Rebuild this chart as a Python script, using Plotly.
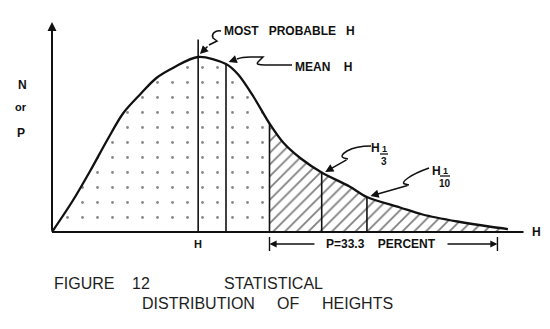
import plotly.graph_objects as go

# Wave height H (relative to the mean height) and relative frequency (N or P)
height = [0.00, 0.12, 0.22, 0.32, 0.41, 0.51, 0.60, 0.70, 0.84, 1.00, 1.07, 1.16,
          1.25, 1.33, 1.43, 1.55, 1.71, 1.81, 2.00, 2.13, 2.33, 2.52, 2.62]
freq = [0.000, 0.18, 0.35, 0.53, 0.68, 0.79, 0.88, 0.94, 1.00, 0.96, 0.90, 0.77,
        0.62, 0.51, 0.42, 0.34, 0.26, 0.20, 0.14, 0.10, 0.06, 0.03, 0.017]

h_mode = 0.84      # most probable height
h_mean = 1.00      # mean height
h_split = 1.25     # lower bound of the highest third of the waves
h_third = 1.55     # H 1/3
h_tenth = 1.81     # H 1/10
h_dim_end = 2.56   # right end of the P = 33.3 percent dimension
mode_line_top = 1.10
axis_top = 1.20
axis_end = 2.71

INK = "#111111"
LABEL_FONT = dict(family="Liberation Sans", size=12, color=INK)
CAPTION_FONT = dict(family="Liberation Sans", size=16, color="#1e1e1e")
NB = "\u00a0"

# page frame: origin of the axes at (52, 232) px, 174 px per unit H, 175 px per unit P
X0, Y0, SX, SY = 52, 232, 174, 175


def hx(px):
    return (px - X0) / SX


def vy(py):
    return (Y0 - py) / SY


def p_at(h):
    return freq[height.index(h)]


fig = go.Figure()

# stippled area under the whole curve
fig.add_trace(go.Scatter(
    x=height, y=freq, mode="none", fill="tozeroy",
    line=dict(shape="spline", width=0),
    fillpattern=dict(shape=".", size=15, solidity=0.028, fgcolor=INK,
                     bgcolor="rgba(0,0,0,0)"),
    hoverinfo="skip", showlegend=False))

# hatched upper third of the waves
tail_h = [h for h in height if h >= h_split]
tail_p = [p for h, p in zip(height, freq) if h >= h_split]
fig.add_trace(go.Scatter(
    x=tail_h, y=tail_p, mode="none", fill="tozeroy",
    line=dict(shape="spline", width=0),
    fillpattern=dict(shape="/", size=8.3, solidity=0.21, fgcolor="#000000",
                     bgcolor="white"),
    hoverinfo="skip", showlegend=False))

# distribution curve
fig.add_trace(go.Scatter(
    x=height, y=freq, mode="lines",
    line=dict(shape="spline", smoothing=0.9, color=INK, width=2.3),
    hoverinfo="skip", showlegend=False))

# horizontal axis
fig.add_trace(go.Scatter(
    x=[0, axis_end], y=[0, 0], mode="lines",
    line=dict(color=INK, width=2), hoverinfo="skip", showlegend=False))

# ordinates at the characteristic heights
vx, vyv = [], []
for h, top in [(h_mode, mode_line_top), (h_mean, p_at(h_mean)), (h_split, p_at(h_split)),
               (h_third, p_at(h_third)), (h_tenth, p_at(h_tenth))]:
    vx += [h, h, None]
    vyv += [0, top, None]
fig.add_trace(go.Scatter(
    x=vx, y=vyv, mode="lines", line=dict(color=INK, width=1.6),
    hoverinfo="skip", showlegend=False))

# dimension end ticks
dim_y = vy(244)
fig.add_trace(go.Scatter(
    x=[h_split, h_split, None, h_dim_end, h_dim_end],
    y=[vy(237), vy(251), None, vy(237), vy(251)],
    mode="lines", line=dict(color=INK, width=1.4),
    hoverinfo="skip", showlegend=False))

annotations = []


def text(s, px, py, font=LABEL_FONT, anchor="center", bold=True):
    annotations.append(dict(
        x=hx(px), y=vy(py), xref="x", yref="y", text=f"<b>{s}</b>" if bold else s,
        showarrow=False, xanchor=anchor, yanchor="middle", font=font))


def arrow(tail, tip, width=1.5, size=1.0):
    annotations.append(dict(
        x=tip[0], y=tip[1], ax=tail[0], ay=tail[1], xref="x", yref="y",
        axref="x", ayref="y", text="", showarrow=True, arrowhead=2,
        arrowsize=size, arrowwidth=width, arrowcolor=INK, standoff=0, startstandoff=0))


# vertical axis with arrow
arrow((0, 0), (0, axis_top), width=2, size=0.9)

# dimension arrows
arrow((hx(316), dim_y), (h_split, dim_y), width=1.3, size=1.1)
arrow((hx(446), dim_y), (h_dim_end, dim_y), width=1.3, size=1.1)

# leader arrows (final straight segment)
arrow((hx(209), vy(45)), (h_mode + 0.01, vy(54)), width=1.5, size=1.1)
arrow((hx(237), vy(59)), (h_mean + 0.015, vy(62)), width=1.5, size=1.1)
arrow((hx(348), vy(159)), (h_third + 0.02, vy(172)), width=1.5, size=1.1)
arrow((hx(409), vy(185)), (h_tenth + 0.02, vy(196)), width=1.5, size=1.1)

shapes = []


def squiggle(cmds):
    parts = []
    for c in cmds:
        op, pts = c[0], c[1:]
        parts.append(op + " ".join(f"{hx(a):.4f},{vy(b):.4f}" for a, b in pts))
    shapes.append(dict(type="path", xref="x", yref="y", path=" ".join(parts),
                       line=dict(color=INK, width=1.5)))


squiggle([("M", (221, 31)), ("C", (215, 30), (211, 34), (213, 38)),
          ("L", (217, 41)), ("L", (209, 45))])
squiggle([("M", (292, 65)), ("L", (265, 65)), ("Q", (255, 65), (258, 62)),
          ("L", (263, 57)), ("L", (250, 57)), ("Q", (242, 57), (237, 59))])
squiggle([("M", (371, 146)), ("Q", (356, 146), (347, 151)),
          ("Q", (339, 156), (344, 158)), ("L", (348, 159))])
squiggle([("M", (429, 168)), ("Q", (415, 173), (408, 178)),
          ("Q", (401, 183), (405, 184)), ("L", (409, 185))])

# fraction bars of the subscripts
for x1, x2, yb in [(380, 388, 154), (440, 450, 176)]:
    shapes.append(dict(type="line", xref="x", yref="y", x0=hx(x1), x1=hx(x2),
                       y0=vy(yb), y1=vy(yb), line=dict(color=INK, width=1.3)))

# labels
text("N", 22, 85, dict(LABEL_FONT, size=12))
text("or", 21, 107, dict(LABEL_FONT, size=11))
text("P", 21, 133, dict(LABEL_FONT, size=12))
text(f"MOST{NB*3}PROBABLE{NB*3}H", 222, 31, anchor="left")
text(f"MEAN{NB*4}H", 293, 67, anchor="left")
text("H", 375, 148)
text("1", 384, 148.5, dict(LABEL_FONT, size=9))
text("3", 384, 161, dict(LABEL_FONT, size=10))
text("H", 436, 171)
text("1", 445, 170.5, dict(LABEL_FONT, size=9))
text("10", 445, 183, dict(LABEL_FONT, size=10))
text("H", h_mode * SX + X0, 244, dict(LABEL_FONT, size=11))
text("H", 536, 232)
text(f"P=33.3{NB*4}PERCENT", 381, 244)

# caption
text("FIGURE", 52, 283, CAPTION_FONT, anchor="left", bold=False)
text("12", 130, 283, CAPTION_FONT, anchor="left", bold=False)
text("STATISTICAL", 222, 283, CAPTION_FONT, anchor="left", bold=False)
text("DISTRIBUTION", 140, 303, CAPTION_FONT, anchor="left", bold=False)
text("OF", 275, 303, CAPTION_FONT, anchor="left", bold=False)
text("HEIGHTS", 320, 303, CAPTION_FONT, anchor="left", bold=False)

fig.update_layout(
    width=550, height=329, margin=dict(l=0, r=0, t=0, b=0),
    paper_bgcolor="white", plot_bgcolor="white",
    xaxis=dict(range=[hx(0), hx(550)], visible=False, fixedrange=True),
    yaxis=dict(range=[vy(329), vy(0)], visible=False, fixedrange=True),
    annotations=annotations, shapes=shapes, showlegend=False,
)

fig.write_html("out.html")
